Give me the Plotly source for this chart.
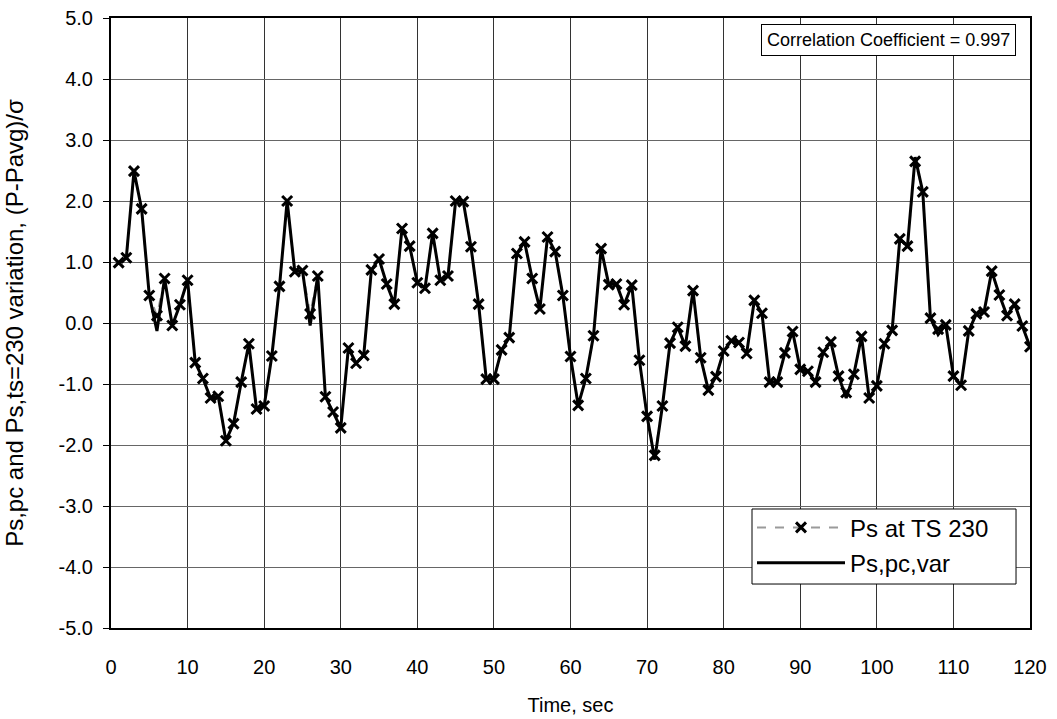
import plotly.graph_objects as go

time_sec = list(range(1, 121))

ps_ts230 = [
    0.99, 1.07, 2.49, 1.87, 0.45, 0.12, 0.73, -0.04, 0.30, 0.70,
    -0.65, -0.91, -1.23, -1.20, -1.93, -1.65, -0.97, -0.34, -1.41, -1.36,
    -0.54, 0.60, 2.00, 0.84, 0.86, 0.15, 0.77, -1.21, -1.46, -1.72,
    -0.41, -0.66, -0.53, 0.87, 1.05, 0.64, 0.31, 1.55, 1.26, 0.66,
    0.57, 1.47, 0.70, 0.77, 2.00, 1.99, 1.25, 0.31, -0.92, -0.92,
    -0.44, -0.24, 1.14, 1.33, 0.73, 0.23, 1.41, 1.17, 0.45, -0.55,
    -1.35, -0.91, -0.21, 1.22, 0.63, 0.64, 0.30, 0.62, -0.61, -1.53,
    -2.17, -1.36, -0.33, -0.07, -0.38, 0.53, -0.57, -1.10, -0.88, -0.46,
    -0.29, -0.32, -0.50, 0.37, 0.16, -0.97, -0.97, -0.49, -0.14, -0.76,
    -0.79, -0.97, -0.48, -0.31, -0.87, -1.14, -0.84, -0.22, -1.23, -1.03,
    -0.34, -0.12, 1.38, 1.26, 2.65, 2.15, 0.08, -0.10, -0.03, -0.87,
    -1.02, -0.13, 0.15, 0.18, 0.85, 0.46, 0.12, 0.31, -0.05, -0.39,
]

ps_pc_var = [
    0.99, 1.07, 2.49, 1.87, 0.45, -0.13, 0.73, -0.04, 0.30, 0.70,
    -0.65, -0.91, -1.23, -1.20, -1.93, -1.65, -0.97, -0.34, -1.41, -1.36,
    -0.54, 0.60, 2.00, 0.84, 0.86, -0.04, 0.77, -1.21, -1.46, -1.72,
    -0.41, -0.66, -0.53, 0.87, 1.05, 0.64, 0.31, 1.55, 1.26, 0.66,
    0.57, 1.47, 0.70, 0.77, 2.00, 1.99, 1.25, 0.31, -0.92, -0.92,
    -0.44, -0.24, 1.14, 1.33, 0.73, 0.23, 1.41, 1.17, 0.45, -0.55,
    -1.35, -0.91, -0.21, 1.22, 0.63, 0.64, 0.30, 0.62, -0.61, -1.53,
    -2.24, -1.36, -0.33, -0.07, -0.38, 0.53, -0.57, -1.10, -0.88, -0.46,
    -0.29, -0.32, -0.50, 0.37, 0.16, -0.97, -0.97, -0.49, -0.14, -0.76,
    -0.79, -0.97, -0.48, -0.31, -0.87, -1.23, -0.84, -0.22, -1.23, -1.03,
    -0.34, -0.12, 1.38, 1.26, 2.72, 2.15, 0.08, -0.19, -0.03, -0.87,
    -1.02, -0.13, 0.15, 0.18, 0.85, 0.46, 0.12, 0.31, -0.05, -0.39,
]

y_ticks = [-5, -4, -3, -2, -1, 0, 1, 2, 3, 4, 5]
y_tick_labels = ["-5.0", "-4.0", "-3.0", "-2.0", "-1.0", "0.0", "1.0", "2.0", "3.0", "4.0", "5.0"]
x_ticks = list(range(0, 121, 10))

FONT = "Liberation Sans, Arial, sans-serif"

fig = go.Figure()
fig.add_trace(go.Scatter(
    x=time_sec, y=ps_ts230, name="Ps at TS 230", mode="lines+markers",
    legendgroup="a",
    line=dict(color="#9a9a9a", width=2, dash="dash"),
    marker=dict(symbol="x-thin", size=10, color="black", line=dict(color="black", width=3)),
))
fig.add_trace(go.Scatter(
    x=time_sec, y=ps_pc_var, name="Ps,pc,var", mode="lines",
    legendgroup="b",
    line=dict(color="black", width=3),
))

# legend frame drawn as a paper-space box
LEG_X0, LEG_X1, LEG_Y0, LEG_Y1 = 0.6975, 0.9848, 0.0721, 0.1951

fig.update_layout(
    width=1057, height=719,
    margin=dict(l=111, r=27, t=18, b=91),
    paper_bgcolor="white", plot_bgcolor="white",
    font=dict(family=FONT, size=20, color="black"),
    showlegend=True,
    legend=dict(
        x=LEG_X0, xanchor="left", y=LEG_Y1 + 0.006, yanchor="top",
        bgcolor="rgba(0,0,0,0)", borderwidth=0,
        font=dict(size=24), itemwidth=88, traceorder="grouped", tracegroupgap=1,
    ),
    shapes=[dict(
        type="rect", xref="paper", yref="paper",
        x0=LEG_X0, x1=LEG_X1, y0=LEG_Y0, y1=LEG_Y1,
        line=dict(color="black", width=1), fillcolor="white", layer="above",
    )],
    annotations=[dict(
        text="Correlation Coefficient = 0.997", xref="paper", yref="paper",
        x=0.985, xanchor="right", y=0.99, yanchor="top", showarrow=False,
        bgcolor="white", bordercolor="black", borderwidth=1, borderpad=5,
        font=dict(size=18),
    )],
)
fig.update_xaxes(
    range=[0, 120], tickvals=x_ticks, showgrid=True, gridcolor="#333333", gridwidth=1,
    showline=True, linecolor="black", linewidth=2, mirror=True, ticks="",
    ticklabelstandoff=20, zeroline=False, automargin=False,
    title=dict(text="Time, sec", standoff=21, font=dict(size=20)),
)
fig.update_yaxes(
    range=[-5, 5], tickvals=y_ticks, ticktext=y_tick_labels, showgrid=True,
    gridcolor="#666666", gridwidth=1,
    showline=True, linecolor="black", linewidth=2, mirror=True,
    ticks="outside", ticklen=6, tickcolor="black", ticklabelstandoff=6, zeroline=False,
    automargin=False,
    title=dict(text="Ps,pc and Ps,ts=230 variation, (P-Pavg)/σ", standoff=28),
)

fig.write_html("out.html")
